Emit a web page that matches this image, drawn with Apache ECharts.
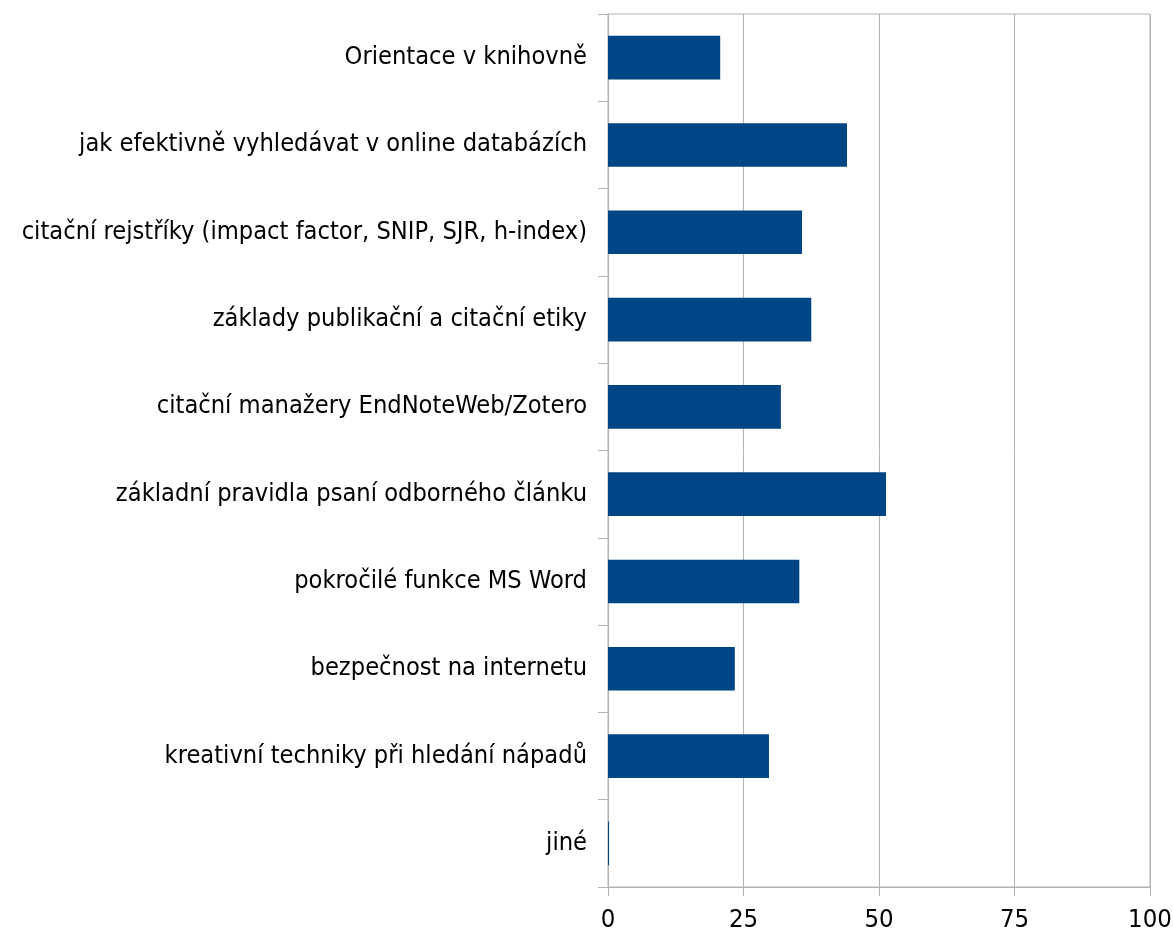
<!DOCTYPE html>
<html><head><meta charset="utf-8">
<script src="https://cdn.jsdelivr.net/npm/echarts@6/dist/echarts.min.js"></script>
<style>html,body{margin:0;padding:0;background:#fff}#c{width:1173px;height:934px}</style>
</head><body><div id="c"></div>
<script>
const categories = [
  "Orientace v knihovně",
  "jak efektivně vyhledávat v online databázích",
  "citační rejstříky (impact factor, SNIP, SJR, h-index)",
  "základy publikační a citační etiky",
  "citační manažery EndNoteWeb/Zotero",
  "základní pravidla psaní odborného článku",
  "pokročilé funkce MS Word",
  "bezpečnost na internetu",
  "kreativní techniky při hledání nápadů",
  "jiné"
];
const values = [20.7, 44.1, 35.8, 37.5, 31.9, 51.3, 35.3, 23.4, 29.7, 0.2];
const xTicks = [0, 25, 50, 75, 100];

const FONT = "DejaVu Sans Condensed";
const chart = echarts.init(document.getElementById('c'), null, {renderer: 'canvas'});
chart.setOption({
  animation: false,
  backgroundColor: '#ffffff',
  grid: {left: 608, right: 23, top: 14, bottom: 47, show: true, borderColor: '#b3b3b3', borderWidth: 1,
         containLabel: false, outerBoundsMode: 'none'},
  xAxis: {
    type: 'value', min: xTicks[0], max: xTicks[xTicks.length - 1], interval: 25,
    axisLine: {show: true, lineStyle: {color: '#b3b3b3'}},
    axisTick: {show: true, length: 9, lineStyle: {color: '#b3b3b3'}},
    splitLine: {show: true, lineStyle: {color: '#b3b3b3'}},
    axisLabel: {color: '#000', fontFamily: FONT, fontSize: 25.5, margin: 20}
  },
  yAxis: {
    type: 'category', inverse: true, data: categories,
    axisLine: {show: true, lineStyle: {color: '#b3b3b3'}},
    axisTick: {show: true, length: 10, lineStyle: {color: '#b3b3b3'}},
    axisLabel: {color: '#000', fontFamily: FONT, fontSize: 25.2, margin: 21, padding: [4, 0, 0, 0]}
  },
  series: [{
    type: 'bar', data: values, barWidth: '50%',
    itemStyle: {color: '#004586'}
  }]
});
</script></body></html>
